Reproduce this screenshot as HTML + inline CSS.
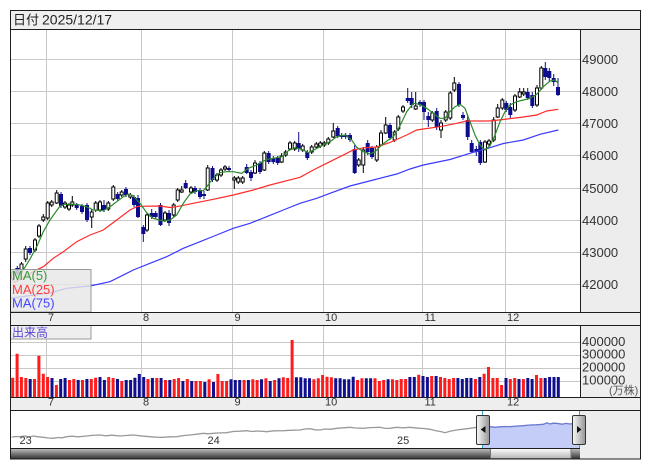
<!DOCTYPE html>
<html><head><meta charset="utf-8"><style>
html,body{margin:0;padding:0;background:#fff;width:653px;height:470px;overflow:hidden}
svg{display:block}
text{font-family:"Liberation Sans","Noto Sans CJK JP",sans-serif}
</style></head><body>
<svg width="653" height="470" viewBox="0 0 653 470" xmlns="http://www.w3.org/2000/svg">
<defs>
<clipPath id="cp"><rect x="10" y="29" width="570" height="283"/></clipPath>
<clipPath id="cn"><rect x="10" y="410" width="570" height="38"/></clipPath>
<linearGradient id="gs" x1="0" y1="0" x2="0" y2="1"><stop offset="0" stop-color="#c8c8c8"/><stop offset="1" stop-color="#303030"/></linearGradient>
<linearGradient id="gt" x1="0" y1="0" x2="0" y2="1"><stop offset="0" stop-color="#ffffff"/><stop offset="1" stop-color="#b5b5b5"/></linearGradient>
<linearGradient id="gh" x1="0" y1="0" x2="1" y2="0"><stop offset="0" stop-color="#fafafa"/><stop offset="1" stop-color="#959595"/></linearGradient>
</defs>
<rect x="0" y="0" width="653" height="470" fill="#fff"/>
<!-- header -->
<rect x="10" y="10" width="631" height="19" fill="#efefef"/>
<text x="13" y="24.5" font-size="13" fill="#222" font-family="'Noto Sans CJK JP',sans-serif">日付</text>
<text x="42" y="24.5" font-size="14" fill="#222" font-family="'DejaVu Sans',sans-serif">2025/12/17</text>
<!-- right panels -->
<rect x="580" y="29" width="61" height="283" fill="#ededed"/>
<rect x="580" y="325" width="61" height="72" fill="#ededed"/>
<rect x="580" y="410" width="61" height="49" fill="#ededed"/>
<!-- strips -->
<rect x="10" y="312" width="631" height="13" fill="#eeeeee"/>
<rect x="10" y="397" width="631" height="13" fill="#eeeeee"/>
<!-- grid main -->
<g stroke="#c8c8c8" stroke-width="1">
<path d="M10 59.5H580M10 91.5H580M10 123.5H580M10 155.5H580M10 188.5H580M10 220.5H580M10 252.5H580M10 284.5H580"/>
<path d="M46.5 29V312M141.5 29V312M232.5 29V312M323.5 29V312M422.5 29V312M505.5 29V312"/>
<path d="M10 342.5H580M10 355.5H580M10 368.5H580M10 381.5H580"/>
<path d="M46.5 325V397M141.5 325V397M232.5 325V397M323.5 325V397M422.5 325V397M505.5 325V397"/>
</g>
<!-- price labels -->
<g font-size="13" fill="#333">
<text x="582" y="64">49000</text>
<text x="582" y="96">48000</text>
<text x="582" y="128">47000</text>
<text x="582" y="160">46000</text>
<text x="582" y="193">45000</text>
<text x="582" y="225">44000</text>
<text x="582" y="257">43000</text>
<text x="582" y="289">42000</text>
<text x="582" y="346">400000</text>
<text x="582" y="358.7">300000</text>
<text x="582" y="371.3">200000</text>
<text x="582" y="384.7">100000</text>
</g>
<text x="609" y="394" font-size="11" fill="#555">(万株)</text>
<!-- axis labels -->
<g font-size="11" fill="#333">
<text x="48" y="321">7</text><text x="143" y="321">8</text><text x="234.5" y="321">9</text><text x="325" y="321">10</text><text x="424.5" y="321">11</text><text x="507" y="321">12</text>
<text x="48" y="405.7">7</text><text x="143" y="405.7">8</text><text x="234.5" y="405.7">9</text><text x="325" y="405.7">10</text><text x="424.5" y="405.7">11</text><text x="507" y="405.7">12</text>
</g>
<!-- candles -->
<g clip-path="url(#cp)">
<path fill="none" stroke="#000" stroke-width="1" d="M13 270V281M21.5 262V272M25.7 246V262M35 238V252M39 224V238M43.3 214V222M47.7 201V220M51.7 200V207M56.7 190V204M65 201V209M69 203V211M72.3 196V207M91.7 209V228M95.7 201V212M100 200V212M108.3 201V211M113.3 185V201M121.7 190V197M130.3 193V199M147 213V232M165 211V222M173.7 203V217M177.7 188V202M181.7 186V193M191 186V194M207.7 165V191M217 173V182M221 168V177M225 165V171M234.3 176V189M238.3 176V184M242.7 176V184M255 160V174M264.3 151V171M281.7 153V163M285.7 150V157M290 141V150M294.7 141V151M302.7 144V152M311.7 145V154M316.3 142V149M320.3 141V148M324.3 141V147M328.3 137V145M333.3 123V138M358.7 158V167M363.3 147V173M376.7 145V162M381 130V146M385.7 117V134M394.7 130V142M398.3 115V131M403 105V113M415.7 92V110M432.3 111V122M441 120V138M445.7 110V122M450.3 91V120M454.3 77V92M485 140V163M489 139V146M493.7 117V142M497.7 104V118M502.3 98V110M515 94V112M519.7 88V98M523.7 88V96M537 85V107M541.3 66V90"/>
<path fill="none" stroke="#0c0c8c" stroke-width="1" d="M17.3 266V276M30 246V255M61 192V208M76.7 203V210M82 204V214M87 203V222M104 200V212M117.7 192V201M126 187V197M134 195V207M138 195V218M143.3 225V242M151.7 209V219M155.7 211V219M160.5 203V226M169 210V226M185.7 180V189M195 186V194M200 188V199M204 191V199M212.5 166V182M229 166V172M246.7 164V174M251 170V181M260 161V174M268.7 151V164M273.3 156V164M277.7 156V165M298.7 132V152M307.3 150V160M337.7 126V138M341.7 133V139M345.7 133V139M350 133V142M354.7 145V174M367.7 140V155M372 146V159M390 123V140M407.7 88V103M411.7 92V108M420 100V107M424 100V120M428.3 112V127M436.7 108V130M459 82V107M463 112V120M467.7 115V140M471.7 140V153M476.3 146V156M480.3 140V165M506.3 101V112M510.3 103V118M527.7 88V100M532.3 92V108M545.3 62V80M549.3 68V82M553.7 74V86M558 78V96"/>
<path fill="#fff" stroke="#000" stroke-width="1" d="M11.5 272h3v7h-3zM20 264h3v6h-3zM24.2 249h3v10h-3zM33.5 240h3v10h-3zM37.5 226h3v10h-3zM41.8 217h3v3h-3zM46.2 203h3v15h-3zM50.2 202h3v3h-3zM55.2 193h3v10h-3zM63.5 203h3v4h-3zM67.5 205h3v4h-3zM70.8 202h3v3h-3zM90.2 212h3v5h-3zM94.2 203h3v7h-3zM98.5 202h3v8h-3zM106.8 203h3v6h-3zM111.8 187h3v12h-3zM120.2 192h3v3h-3zM128.8 195h3v2h-3zM145.5 215h3v15h-3zM163.5 213h3v7h-3zM172.2 205h3v10h-3zM176.2 190h3v10h-3zM180.2 190h3v2h-3zM189.5 188h3v4h-3zM206.2 168h3v22h-3zM215.5 175h3v5h-3zM219.5 170h3v5h-3zM223.5 167h3v2h-3zM232.8 178h3v2h-3zM236.8 178h3v4h-3zM241.2 178h3v4h-3zM253.5 163h3v10h-3zM262.8 153h3v17h-3zM280.2 156h3v6h-3zM284.2 152h3v3h-3zM288.5 143h3v6h-3zM293.2 143h3v6h-3zM301.2 146h3v4h-3zM310.2 147h3v5h-3zM314.8 144h3v3h-3zM318.8 143h3v3h-3zM322.8 143h3v2h-3zM326.8 139h3v4h-3zM331.8 131h3v6h-3zM357.2 160h3v5h-3zM361.8 150h3v15h-3zM375.2 147h3v13h-3zM379.5 133h3v12h-3zM384.2 125h3v8h-3zM393.2 132h3v8h-3zM396.8 117h3v12h-3zM401.5 107h3v4h-3zM414.2 106h3v3h-3zM430.8 113h3v7h-3zM439.5 123h3v7h-3zM444.2 112h3v8h-3zM448.8 93h3v25h-3zM452.8 83h3v7h-3zM483.5 142h3v20h-3zM487.5 141h3v3h-3zM492.2 120h3v20h-3zM496.2 108h3v9h-3zM500.8 100h3v8h-3zM513.5 96h3v14h-3zM518.2 92h3v5h-3zM522.2 92h3v2h-3zM535.5 88h3v17h-3zM539.8 68h3v20h-3z"/>
<path fill="#0c0c8c" d="M15.3 268h4v6h-4zM28 248h4v5h-4zM59 194h4v12h-4zM74.7 205h4v3h-4zM80 206h4v6h-4zM85 205h4v15h-4zM102 205h4v5h-4zM115.7 194h4v5h-4zM124 189h4v6h-4zM132 197h4v8h-4zM136 198h4v19h-4zM141.3 227h4v7h-4zM149.7 213h4v4h-4zM153.7 213h4v4h-4zM158.5 205h4v20h-4zM167 213h4v10h-4zM183.7 183h4v5h-4zM193 188h4v4h-4zM198 190h4v7h-4zM202 194h4v2h-4zM210.5 168h4v12h-4zM227 168h4v2h-4zM244.7 167h4v6h-4zM249 172h4v6h-4zM258 163h4v9h-4zM266.7 153h4v9h-4zM271.3 158h4v4h-4zM275.7 158h4v5h-4zM296.7 143h4v6h-4zM305.3 152h4v6h-4zM335.7 128h4v8h-4zM339.7 135h4v2h-4zM343.7 135h4v2h-4zM348 135h4v5h-4zM352.7 149h4v24h-4zM365.7 143h4v9h-4zM370 148h4v9h-4zM388 125h4v13h-4zM405.7 98h4v3h-4zM409.7 98h4v7h-4zM418 102h4v3h-4zM422 102h4v10h-4zM426.3 116h4v4h-4zM434.7 111h4v16h-4zM457 84h4v21h-4zM461 115h4v3h-4zM465.7 120h4v17h-4zM469.7 143h4v9h-4zM474.3 149h4v3h-4zM478.3 142h4v21h-4zM504.3 103h4v7h-4zM508.3 107h4v8h-4zM525.7 92h4v6h-4zM530.3 95h4v11h-4zM543.3 68h4v9h-4zM547.3 71h4v7h-4zM551.7 78h4v4h-4zM556 87h4v8h-4z"/>
<!-- MAs -->
<polyline fill="none" stroke="#3a3aff" stroke-width="1.2" points="10,298.5 30,295.5 50,293 66.7,288.3 90,286 110,281.7 133.3,270 150,263.3 166.7,256.7 183.3,248.3 200,241.7 216.7,235 233.3,228.3 250,223.3 266.7,216.7 283.3,210 300,203.3 316.7,198.3 330,193.3 350,186 373.3,180 396.7,174 410,169 423.3,165 450,159.5 470,153.3 490,147.7 503.3,143.5 523.3,140 540,134.3 558.3,130"/>
<polyline fill="none" stroke="#ff2a2a" stroke-width="1.2" points="13,283 23,278 33,271.7 43.3,266.7 53.3,258.3 63.3,251.7 76.7,241.7 90,235 103.3,230 116.7,220 130,210 136.7,206.7 140,206.3 160,206 170,207.5 176.7,206.7 193.3,203.3 213.3,199.3 233.3,195 253.3,190 270,185 286.7,180.7 300,177.3 313.3,170 326.7,163.3 340,156.7 353.3,150 363.3,147.8 376.7,147 390,142.5 406.7,135 416.7,130 423.3,129 440,126.7 456.7,123.3 466.7,121 490,121 503.3,119.5 523.3,117 536.7,115 546.7,111 558.3,109.3"/>
<polyline fill="none" stroke="#2a8a2a" stroke-width="1.2" points="17,282 23.3,270 30,259 36.7,246.7 43.3,231.7 50,220 55,213 60,206 65,204.3 76.7,204.3 86.7,206.7 93.3,210 103.3,210.7 110,206.7 116.7,201.7 123.3,196.7 128.3,194 133.3,196 140,203.3 146.7,212.7 153.3,218.3 163.3,221 170,220 176.7,215 183.3,203.3 190,194 196.7,190.7 203.3,190.7 206.7,186.7 213.3,178.3 220,172.7 226.7,171.7 233.3,171.7 241.7,173.3 248.3,168.3 256.7,165 266.7,159.3 273.3,158.3 281.7,156.7 288.3,150.7 295,147.7 301.7,149.3 308.3,152.7 315,149.3 323.3,145 330,141.7 336.7,136.7 345,135 351.7,140 356.7,147.3 363.3,151.7 370,154 375,151.7 381.7,145 388.3,140 393.3,136.7 400,125.7 406.7,111.7 413.3,103.3 420,104.3 426.7,108.3 433.3,113.3 440,118.3 445,118.3 450,111.7 455,106.7 460,104.3 465,108.3 470,121.7 475,135 480,145 485,150 490,145.7 495,135 500,121.7 505,111.7 510,105 516.7,101.7 523.3,100 530,98.3 536.7,94.3 543.3,86.7 550,81 555,80 558.3,83.3"/>
</g>
<!-- MA legend -->
<rect x="10.5" y="269.5" width="80.5" height="42.5" fill="#e6e6e6" fill-opacity="0.82" stroke="#999" stroke-width="1"/>
<text x="12" y="280" font-size="13" fill="#3c9a3c">MA(5)</text>
<text x="12" y="294" font-size="13" fill="#ff3c3c">MA(25)</text>
<text x="12" y="307.5" font-size="13" fill="#4646ff">MA(75)</text>
<!-- volume -->
<path fill="#ff1c1c" d="M11.2 377.7h3V397h-3zM15.6 353.7h3V397h-3zM19.9 377h3V397h-3zM24.3 378h3V397h-3zM33 379h3V397h-3zM37.4 355.7h3V397h-3zM41.8 373.7h3V397h-3zM46.1 377h3V397h-3zM54.9 385h3V397h-3zM68 380h3V397h-3zM72.3 379h3V397h-3zM81 380h3V397h-3zM89.8 379h3V397h-3zM94.1 377.7h3V397h-3zM107.2 377h3V397h-3zM111.6 378h3V397h-3zM120.3 381h3V397h-3zM146.5 379h3V397h-3zM155.3 378h3V397h-3zM164 380h3V397h-3zM172.7 379h3V397h-3zM177.1 378h3V397h-3zM185.8 379h3V397h-3zM194.5 381h3V397h-3zM198.9 381h3V397h-3zM207.6 379.3h3V397h-3zM216.4 374h3V397h-3zM220.7 381h3V397h-3zM225.1 381h3V397h-3zM242.6 380h3V397h-3zM251.3 379.3h3V397h-3zM255.6 380h3V397h-3zM264.4 378.3h3V397h-3zM273.1 380h3V397h-3zM281.8 377.3h3V397h-3zM286.2 378h3V397h-3zM290.6 340h3V397h-3zM312.4 379.3h3V397h-3zM316.8 378.3h3V397h-3zM321.1 375h3V397h-3zM325.5 376.7h3V397h-3zM329.9 377.3h3V397h-3zM356 380h3V397h-3zM360.4 378.3h3V397h-3zM373.5 378.3h3V397h-3zM377.9 381h3V397h-3zM382.2 380h3V397h-3zM391 379.3h3V397h-3zM395.3 380h3V397h-3zM399.7 379h3V397h-3zM404.1 379h3V397h-3zM417.2 374.7h3V397h-3zM430.2 376h3V397h-3zM439 377h3V397h-3zM443.3 378h3V397h-3zM447.7 379h3V397h-3zM452.1 378h3V397h-3zM473.9 379h3V397h-3zM482.6 373.7h3V397h-3zM487 367h3V397h-3zM491.4 378h3V397h-3zM495.7 378h3V397h-3zM500.1 385h3V397h-3zM508.8 379h3V397h-3zM513.2 378h3V397h-3zM521.9 379h3V397h-3zM535 375h3V397h-3zM539.4 378h3V397h-3z"/>
<path fill="#10108f" d="M28.7 379h3V397h-3zM50.5 378h3V397h-3zM59.2 379h3V397h-3zM63.6 378h3V397h-3zM76.7 380h3V397h-3zM85.4 379h3V397h-3zM98.5 377h3V397h-3zM102.9 380h3V397h-3zM116 379h3V397h-3zM124.7 380h3V397h-3zM129.1 380h3V397h-3zM133.4 377.7h3V397h-3zM137.8 374h3V397h-3zM142.2 377h3V397h-3zM150.9 378h3V397h-3zM159.6 378h3V397h-3zM168.3 380h3V397h-3zM181.4 381h3V397h-3zM190.2 381h3V397h-3zM203.3 382h3V397h-3zM212 382h3V397h-3zM229.5 379.3h3V397h-3zM233.8 380h3V397h-3zM238.2 380h3V397h-3zM246.9 380h3V397h-3zM260 379.3h3V397h-3zM268.7 381h3V397h-3zM277.5 378.3h3V397h-3zM294.9 377.3h3V397h-3zM299.3 377.3h3V397h-3zM303.7 378.3h3V397h-3zM308 378.3h3V397h-3zM334.2 378.3h3V397h-3zM338.6 378.3h3V397h-3zM342.9 379.3h3V397h-3zM347.3 379.3h3V397h-3zM351.7 376.7h3V397h-3zM364.8 378.3h3V397h-3zM369.1 378.3h3V397h-3zM386.6 379.3h3V397h-3zM408.4 377h3V397h-3zM412.8 377h3V397h-3zM421.5 376h3V397h-3zM425.9 377h3V397h-3zM434.6 376h3V397h-3zM456.4 378h3V397h-3zM460.8 379h3V397h-3zM465.2 378h3V397h-3zM469.5 378h3V397h-3zM478.3 377h3V397h-3zM504.5 378h3V397h-3zM517.5 379h3V397h-3zM526.3 378h3V397h-3zM530.6 379h3V397h-3zM543.7 378h3V397h-3zM548.1 377h3V397h-3zM552.5 377h3V397h-3zM556.8 377h3V397h-3z"/>
<!-- volume label box -->
<rect x="10.5" y="325.5" width="80.5" height="13.5" fill="#eeeeee" stroke="#999" stroke-width="1"/>
<text x="12" y="336.5" font-size="12" fill="#5a46d2" font-family="'Noto Sans CJK JP',sans-serif">出来高</text>
<!-- navigator -->
<g clip-path="url(#cn)">
<path fill="#c3cdf7" d="M482 427.5L486 426.2L490 426.7L495 427.3L500 426.8L505 426.5L510 426.7L516 426.1L523 425.7L530 425L536 424.8L543.3 424.3L547 422.8L550 424L553 423.2L556.7 423.3L562 424.2L566 423.4L570 424L575 423.2L579.5 423.5L579.5 448L482 448Z"/>
<polyline fill="none" stroke="#9a9a9a" stroke-width="1.3" points="11.7,437.3 15,436.5 20,436.7 25,436 29,437 33.3,436 38,436.8 43.3,437.3 48,438 53.3,438.3 58,437.5 62,437.8 66.7,436.7 72,436.2 78,436.8 86.7,436 92,435.4 100,435 106,435.8 112,435.2 120,436 126,435.5 133.3,435 140,435.8 145,436.3 150,436.7 156,437.2 163.3,437.3 170,436.8 176.7,436.7 183,435.6 190,435 197,434.2 203.3,433.3 208,433.8 213.3,433.3 220,432.9 226.7,432.7 233,431.5 240,431.2 246.7,430.7 252,431.5 258,431 266.7,431.7 274,430.8 283.3,430.7 290,430.3 300,430 305,429 310,428.7 315,429.8 320,430 325,429 330,429.3 337,428.3 343,427.8 350,427.3 356,428 363.3,428.3 370,427.6 380,427.3 385,428.4 390,428.3 396.7,427.3 403,427.8 410,427.3 418,428.2 424,428.5 430,429.3 436,430.8 441,431.6 445,432.7 450,431.2 456.7,430 463,429.2 470,428.3 476.7,427.3 482,427.5"/>
<polyline fill="none" stroke="#6a78d0" stroke-width="1.3" points="482,427.5 486,426.2 490,426.7 495,427.3 500,426.8 505,426.5 510,426.7 516,426.1 523,425.7 530,425 536,424.8 543.3,424.3 547,422.8 550,424 553,423.2 556.7,423.3 562,424.2 566,423.4 570,424 575,423.2 580,423.5"/>
</g>
<g font-size="11" fill="#333">
<text x="19.5" y="444">23</text><text x="207.5" y="444">24</text><text x="397" y="444">25</text>
</g>
<path stroke="#3aa4cf" stroke-width="1" d="M482.5 410V448M579.5 410V448"/>
<!-- scrollbar -->
<rect x="10" y="448" width="570" height="11" fill="url(#gs)"/>
<rect x="490.5" y="448.5" width="80.5" height="10" fill="url(#gt)" stroke="#777" stroke-width="1"/>
<!-- handles -->
<rect x="476.5" y="415.5" width="13" height="29" rx="1.5" fill="url(#gh)" stroke="#333" stroke-width="1"/>
<path d="M480.7 429.5L485.5 426V433Z" fill="#111"/>
<rect x="572.5" y="415.5" width="13" height="29" rx="1.5" fill="url(#gh)" stroke="#333" stroke-width="1"/>
<path d="M581.5 429.5L577 426V433Z" fill="#111"/>
<!-- frame lines -->
<g stroke="#1e1e1e" stroke-width="1" fill="none">
<rect x="10.5" y="10.5" width="630" height="448.5"/>
<path d="M10 29.5H641M10 312.5H641M10 325.5H641M10 397.5H641M10 410.5H641M10 448.5H580"/>
<path d="M580.5 29V312M580.5 325V397"/>
</g>
</svg>
</body></html>
